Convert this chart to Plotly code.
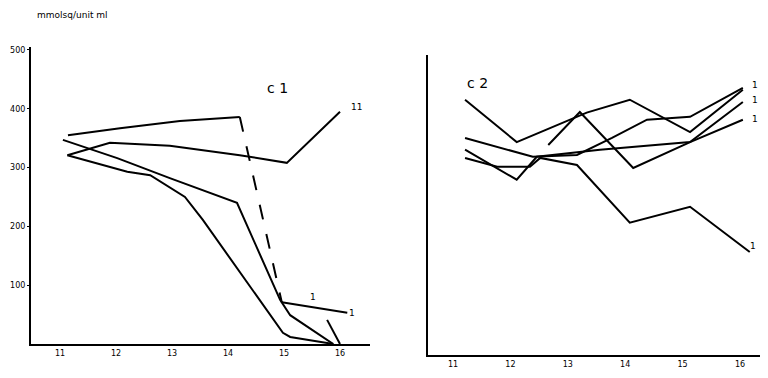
import plotly.graph_objects as go

# tick labels
x_labels = ["11", "12", "13", "14", "15", "16"]
x_ticks = [1, 2, 3, 4, 5, 6]
y_ticks = [100, 200, 300, 400, 500]
y_labels = ["100", "200", "300", "400", "500"]

# panel c1 series
c1_a_x = [1.14, 2.07, 3.14, 4.21, 4.96, 6.13]
c1_a_y = [355, 367, 379, 386, 71, 53]
c1_b_x = [1.13, 1.89, 2.96, 4.21, 5.05, 6.0]
c1_b_y = [321, 342, 337, 321, 308, 395]
c1_c_x = [1.05, 2.02, 2.96, 4.16, 4.93, 5.11, 5.88]
c1_c_y = [347, 316, 282, 240, 75, 49, 0]
c1_d_x = [1.13, 2.20, 2.61, 3.23, 3.55, 4.98, 5.11, 5.88]
c1_d_y = [321, 293, 287, 250, 211, 19, 12, 0]
c1_e_x = [5.77, 6.0]
c1_e_y = [41, 0]

# panel c2 series
c2_a_x = [1.21, 2.11, 3.33, 4.08, 5.13, 6.05]
c2_a_y = [434, 362, 412, 434, 379, 451]
c2_b_x = [2.66, 3.21, 4.14, 5.13, 6.05]
c2_b_y = [357, 413, 318, 362, 400]
c2_c_x = [1.21, 2.39, 3.16, 3.77, 4.38, 5.13, 6.05]
c2_c_y = [369, 337, 340, 369, 400, 405, 454]
c2_d_x = [1.21, 2.11, 2.46, 3.56, 5.13, 6.05]
c2_d_y = [349, 298, 337, 349, 362, 430]
c2_e_x = [1.21, 1.77, 2.34, 2.52, 3.16, 4.08, 5.13, 6.17]
c2_e_y = [335, 320, 320, 335, 323, 225, 252, 175]

W, H, OFF = 760, 370, 8  # page body margin offsets the figure by 8px

def px_x(px):
    return (px - OFF) / W

def px_y(py):
    return (H + OFF - py) / H

fig = go.Figure()

def add(x, y, xa="x", ya="y", dash="solid"):
    fig.add_trace(go.Scatter(x=x, y=y, mode="lines", xaxis=xa, yaxis=ya,
                             line=dict(color="black", width=2, dash=dash),
                             showlegend=False, hoverinfo="skip", cliponaxis=False))

# c1
add(c1_a_x[:4], c1_a_y[:4])
add(c1_a_x[3:5], c1_a_y[3:5], dash="longdash")
add(c1_a_x[4:], c1_a_y[4:])
add(c1_b_x, c1_b_y)
add(c1_c_x, c1_c_y)
add(c1_d_x, c1_d_y)
add(c1_e_x, c1_e_y)

# c2
for xs, ys in [(c2_a_x, c2_a_y), (c2_b_x, c2_b_y), (c2_c_x, c2_c_y),
               (c2_d_x, c2_d_y), (c2_e_x, c2_e_y)]:
    add(xs, ys, "x2", "y2")

tickfont = dict(family="DejaVu Sans", size=8, color="black")
common_x = dict(showgrid=False, zeroline=False, showline=True, linecolor="black",
                linewidth=2, ticks="", tickvals=x_ticks, ticktext=x_labels,
                tickfont=tickfont, automargin=False)

fig.update_layout(
    width=W, height=H,
    margin=dict(l=0, r=0, t=0, b=0, autoexpand=False),
    paper_bgcolor="white", plot_bgcolor="white",
    xaxis=dict(domain=[px_x(31), px_x(370)], range=[0.48, 6.536], anchor="y", **common_x),
    yaxis=dict(domain=[px_y(344), px_y(47)], range=[0, 505], anchor="x",
               showgrid=False, zeroline=False, showline=True, linecolor="black",
               linewidth=2, ticks="outside", ticklen=2, tickcolor="black",
               tickvals=y_ticks, ticktext=y_labels, tickfont=tickfont, automargin=False),
    xaxis2=dict(domain=[px_x(428), 1.0], range=[0.5645, 6.488], anchor="y2", **common_x),
    yaxis2=dict(domain=[px_y(355), px_y(55)], range=[0, 510], anchor="x2",
                showgrid=False, zeroline=False, showline=True, linecolor="black",
                linewidth=2, showticklabels=False, ticks="", automargin=False),
)

ann_font = dict(family="DejaVu Sans", color="black")
fig.add_annotation(text="mmolsq/unit ml", x=px_x(35), y=px_y(15), xref="paper", yref="paper",
                   showarrow=False, xanchor="left", yanchor="middle",
                   font=dict(size=9, **ann_font))
fig.add_annotation(text="c 1", x=px_x(277), y=px_y(88), xref="paper", yref="paper",
                   showarrow=False, yanchor="middle", font=dict(size=14, **ann_font))
fig.add_annotation(text="c 2", x=px_x(477), y=px_y(83), xref="paper", yref="paper",
                   showarrow=False, yanchor="middle", font=dict(size=14, **ann_font))
for txt, px, py in [("11", 356, 107), ("1", 352, 313), ("1", 313, 297),
                    ("1", 760, 85), ("1", 760, 100), ("1", 760, 119), ("1", 758, 246)]:
    fig.add_annotation(text=txt, x=px_x(px), y=px_y(py), xref="paper", yref="paper",
                       showarrow=False, yanchor="middle", font=dict(size=9, **ann_font))

fig.write_html("out.html")
